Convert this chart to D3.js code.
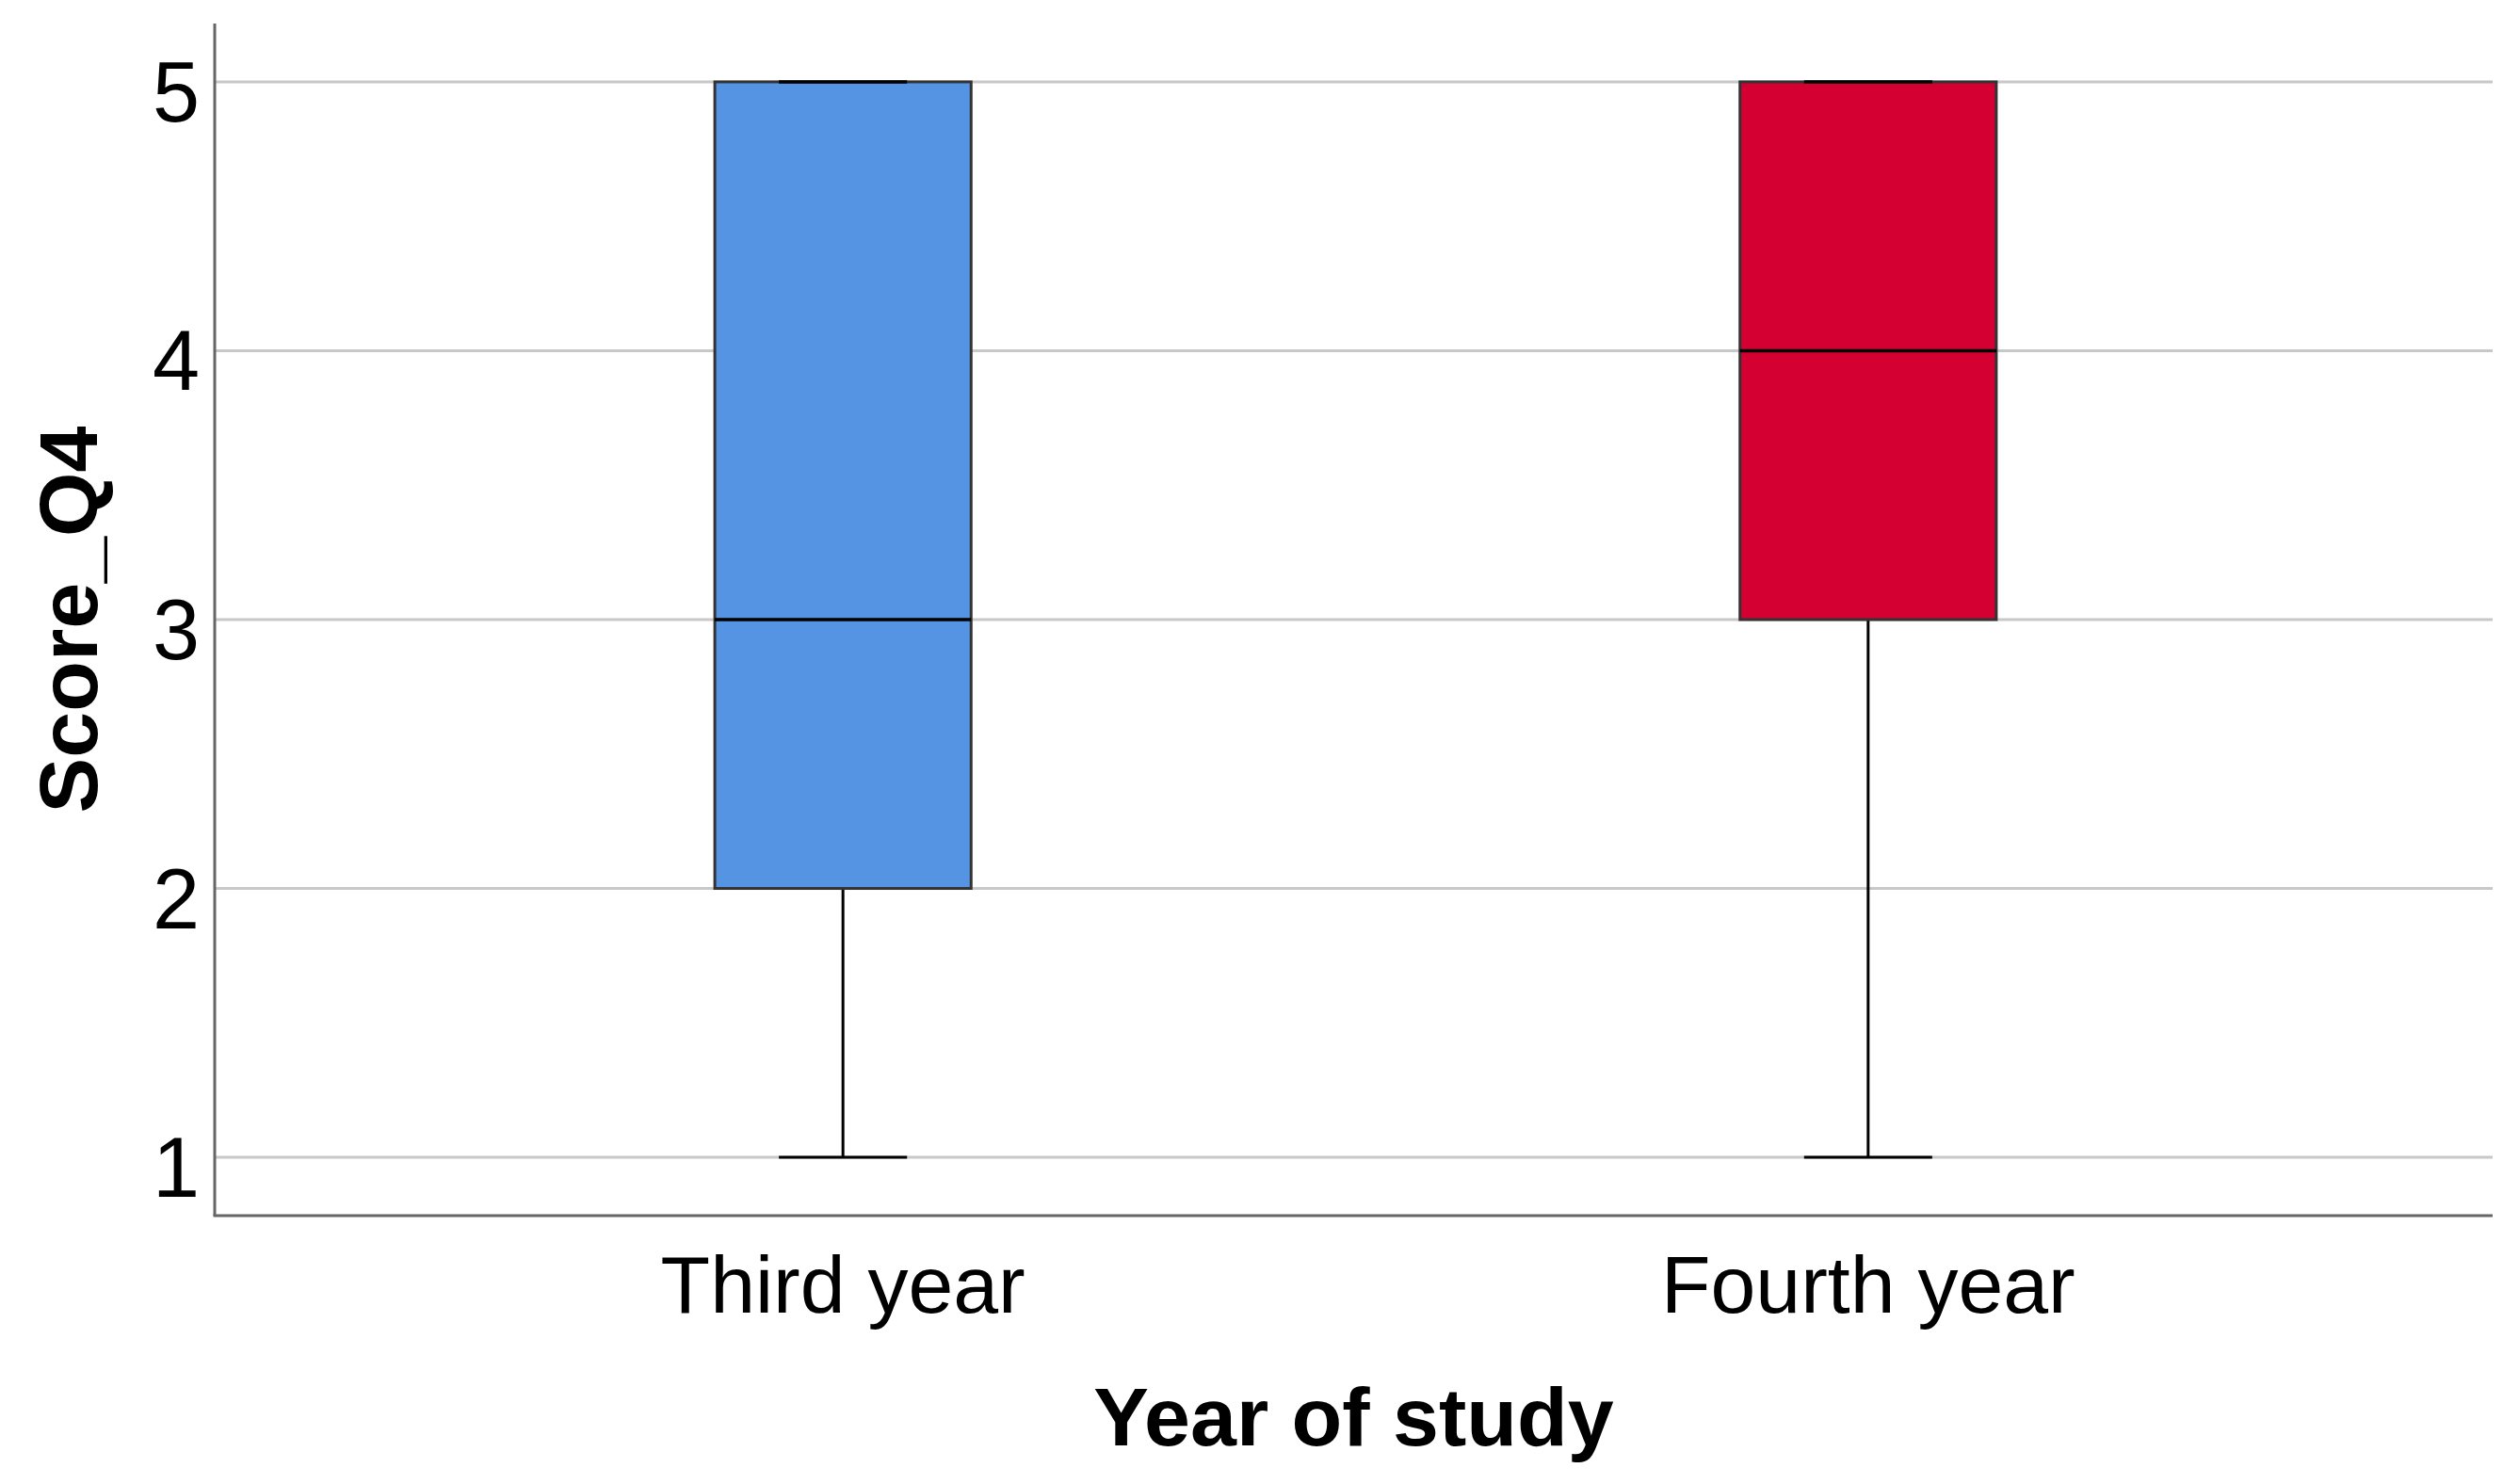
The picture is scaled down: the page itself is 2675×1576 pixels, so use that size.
<!DOCTYPE html>
<html><head><meta charset="utf-8">
<script src="https://cdn.jsdelivr.net/npm/d3@7"></script>
<style>body{margin:0;background:#fff;}svg{display:block;}</style>
</head><body>
<svg id="chart" width="2675" height="1576"></svg>
<script>
const categories = ["Third year", "Fourth year"];
const mins = [1, 1];
const q1s = [2, 3];
const medians = [3, 4];
const q3s = [5, 5];
const maxs = [5, 5];
const colors = ["#5594E3", "#D50032"];
const yTicks = [1, 2, 3, 4, 5];
const yTitle = "Score_Q4";
const xTitle = "Year of study";

const svg = d3.select("#chart");
const L = 228, R = 2647, T = 25, B = 1291;
const font = "'Liberation Sans', Arial, sans-serif";

const x = d3.scalePoint().domain(categories).range([L + 2, R + 2]).padding(0.611);
const y = d3.scaleLinear().domain([0.783, 5.217]).range([B, T]);
const boxW = x.step() * 0.25;

// gridlines
svg.append("g").selectAll("line").data(yTicks).join("line")
  .attr("x1", L).attr("x2", R)
  .attr("y1", d => y(d)).attr("y2", d => y(d))
  .attr("stroke", "#c8c8c8").attr("stroke-width", 3);

const data = categories.map((c, i) => ({c, min: mins[i], q1: q1s[i], med: medians[i], q3: q3s[i], max: maxs[i], color: colors[i]}));

const g = svg.append("g").selectAll("g").data(data).join("g");
// lower whisker
g.append("line").attr("x1", d => x(d.c)).attr("x2", d => x(d.c))
  .attr("y1", d => y(d.min)).attr("y2", d => y(d.q1))
  .attr("stroke", "#000").attr("stroke-width", 3);
g.append("line").attr("x1", d => x(d.c) - boxW / 4).attr("x2", d => x(d.c) + boxW / 4)
  .attr("y1", d => y(d.min)).attr("y2", d => y(d.min))
  .attr("stroke", "#000").attr("stroke-width", 3);
// upper whisker
g.append("line").attr("x1", d => x(d.c)).attr("x2", d => x(d.c))
  .attr("y1", d => y(d.max)).attr("y2", d => y(d.q3))
  .attr("stroke", "#000").attr("stroke-width", 3);
// box
g.append("rect").attr("x", d => x(d.c) - boxW / 2).attr("width", boxW)
  .attr("y", d => y(d.q3)).attr("height", d => y(d.q1) - y(d.q3))
  .attr("fill", d => d.color).attr("stroke", "#333").attr("stroke-width", 3);
// upper cap
g.append("line").attr("x1", d => x(d.c) - boxW / 4).attr("x2", d => x(d.c) + boxW / 4)
  .attr("y1", d => y(d.max)).attr("y2", d => y(d.max))
  .attr("stroke", "#000").attr("stroke-width", 3.5);
// median
g.append("line").attr("x1", d => x(d.c) - boxW / 2).attr("x2", d => x(d.c) + boxW / 2)
  .attr("y1", d => y(d.med)).attr("y2", d => y(d.med))
  .attr("stroke", "#000").attr("stroke-width", 3.5);

// axes lines
svg.append("line").attr("x1", L).attr("x2", L).attr("y1", T).attr("y2", B)
  .attr("stroke", "#666").attr("stroke-width", 3);
svg.append("line").attr("x1", L - 1.5).attr("x2", R).attr("y1", B).attr("y2", B)
  .attr("stroke", "#666").attr("stroke-width", 3);

// y tick labels
svg.append("g").selectAll("text").data(yTicks).join("text")
  .attr("x", L - 16).attr("y", d => y(d) + 42)
  .attr("text-anchor", "end").attr("font-family", font).attr("font-size", 90)
  .attr("fill", "#000").text(d => d);

// x tick labels
svg.append("g").selectAll("text").data(categories).join("text")
  .attr("x", d => x(d)).attr("y", 1394)
  .attr("text-anchor", "middle").attr("font-family", font).attr("font-size", 86)
  .attr("fill", "#000").text(d => d);

// titles
svg.append("text").attr("x", (L + R) / 2).attr("y", 1535)
  .attr("text-anchor", "middle").attr("font-family", font).attr("font-size", 88)
  .attr("font-weight", "bold").attr("fill", "#000").text(xTitle);
svg.append("text").attr("transform", `translate(103,${(T + B) / 2}) rotate(-90)`)
  .attr("text-anchor", "middle").attr("font-family", font).attr("font-size", 88)
  .attr("font-weight", "bold").attr("fill", "#000").text(yTitle);
</script>
</body></html>
